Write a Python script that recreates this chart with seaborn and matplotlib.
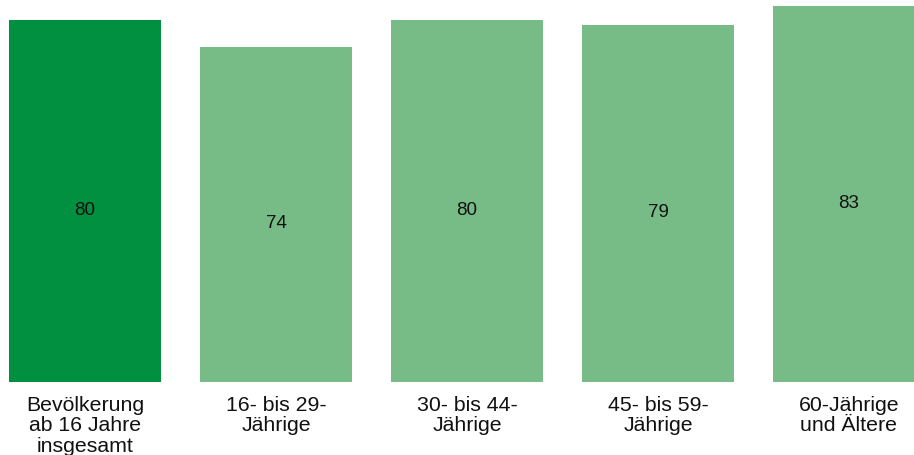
import matplotlib
matplotlib.use("Agg")
import matplotlib.pyplot as plt
import seaborn as sns
import pandas as pd

categories = ["Bevölkerung\nab 16 Jahre\ninsgesamt", "16- bis 29-\nJährige",
              "30- bis 44-\nJährige", "45- bis 59-\nJährige", "60-Jährige\nund Ältere"]
values = [80, 74, 80, 79, 83]
colors = ["#00903f", "#77bc87", "#77bc87", "#77bc87", "#77bc87"]

sns.set_theme(style="white")
plt.rcParams["font.family"] = ["Liberation Sans", "DejaVu Sans"]

df = pd.DataFrame({"cat": categories, "val": values})

fig = plt.figure(figsize=(9.14, 4.56), dpi=100)
ax = fig.add_axes([0, (456 - 383) / 456, 1, 383 / 456])
sns.barplot(data=df, x="cat", y="val", hue="cat", palette=colors, legend=False,
            width=152 / 191, saturation=1, ax=ax, edgecolor="none", linewidth=0)

ax.set_xlim(-85 / 191, 4 + (914 - 849) / 191)
ax.set_ylim(0, 383 / 4.525)
for i, v in enumerate(values):
    ax.annotate(str(v), (i, v / 2), xytext=(0, -5.8), textcoords="offset points",
                ha="center", va="center", fontsize=13.5, color="#111111")

ax.set_xlabel("")
ax.set_ylabel("")
ax.set_yticks([])
ax.tick_params(axis="x", length=0, pad=9.5, labelsize=15.3, labelcolor="#111111")
for lbl in ax.get_xticklabels():
    lbl.set_linespacing(1.08)
for s in ax.spines.values():
    s.set_visible(False)

fig.savefig("out.png", dpi=100)
